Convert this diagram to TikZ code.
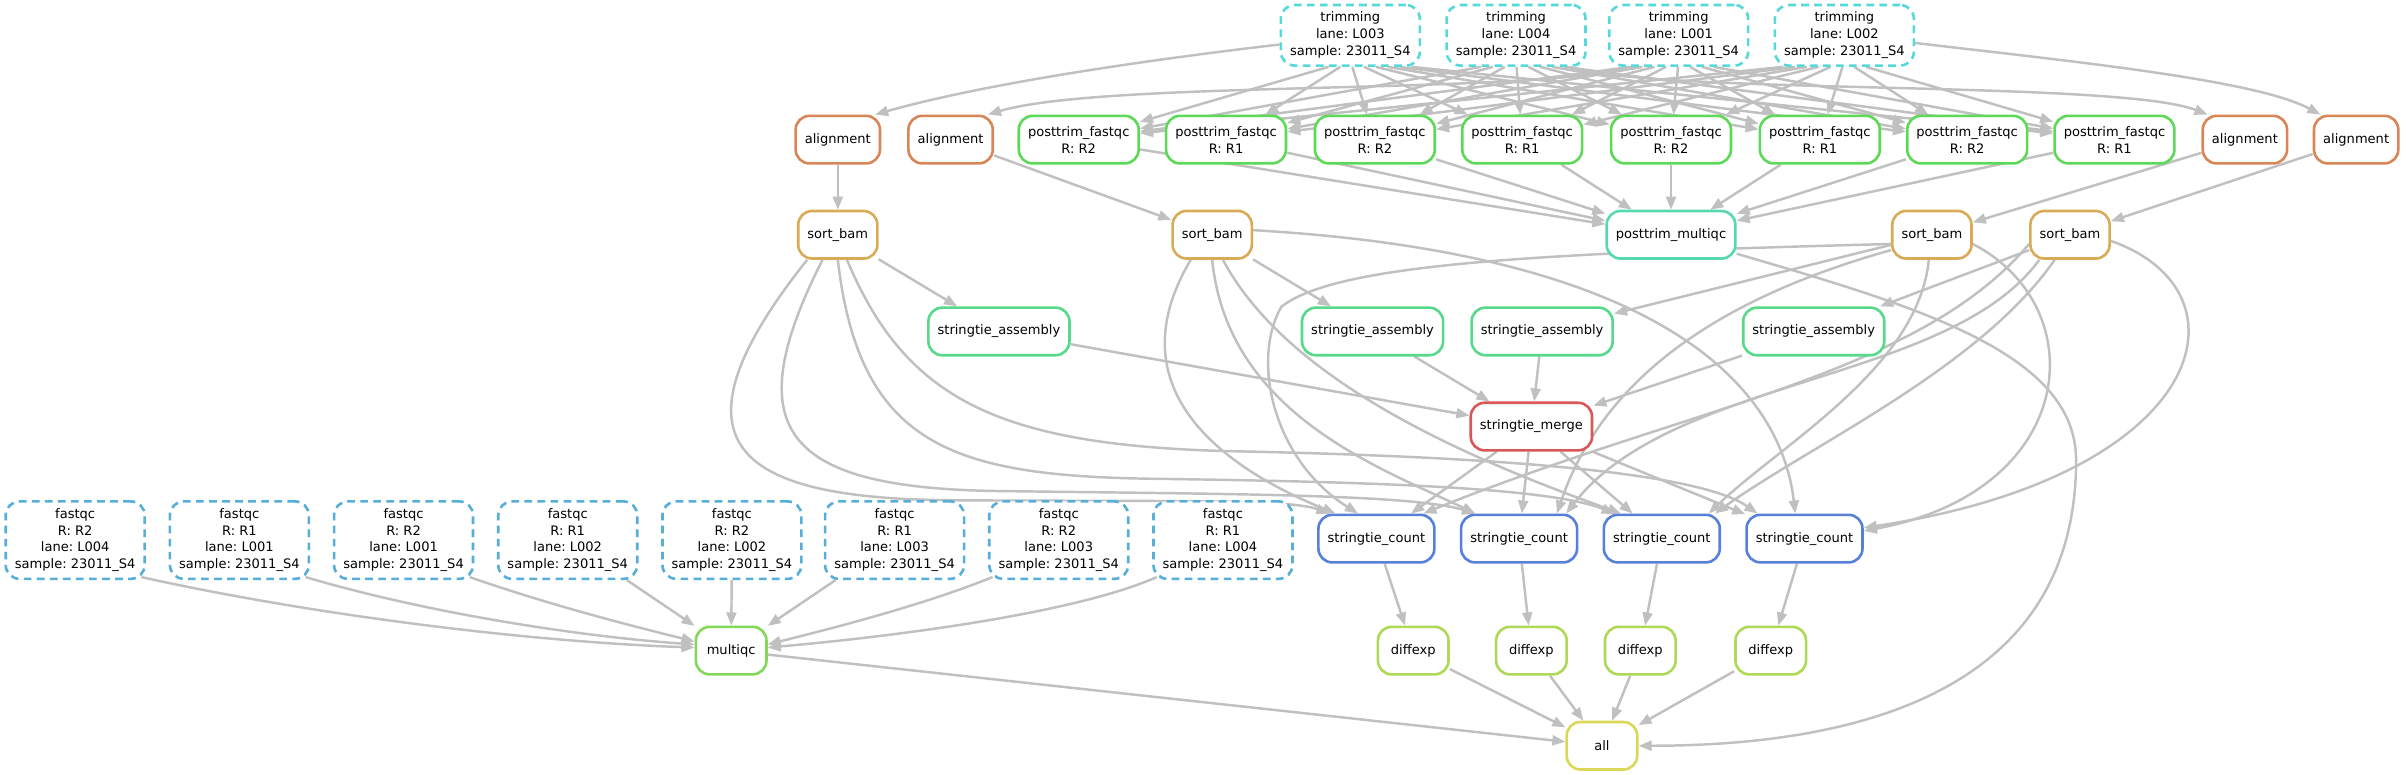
\documentclass[tikz,border=0pt]{standalone}
\usepackage{fontspec}
\setmainfont{DejaVu Sans}
\usetikzlibrary{arrows.meta,backgrounds}
\definecolor{edgegrey}{HTML}{C0C0C0}
\definecolor{ctrim}{HTML}{57D9D9}
\definecolor{calign}{HTML}{D98657}
\definecolor{csort}{HTML}{D9AB57}
\definecolor{cptfq}{HTML}{5CD957}
\definecolor{cptmq}{HTML}{57D9AE}
\definecolor{cassem}{HTML}{57D98A}
\definecolor{cmerge}{HTML}{D95757}
\definecolor{ccount}{HTML}{5781D9}
\definecolor{cfastqc}{HTML}{57AED9}
\definecolor{cmultiqc}{HTML}{81D957}
\definecolor{cdiff}{HTML}{AED957}
\definecolor{call}{HTML}{D9D957}
\frenchspacing
\begin{document}
\begin{tikzpicture}[x=1pt,y=-1pt,
  job/.style={draw, rounded corners=9pt, line width=1.7pt, fill=white, align=center,
    font=\fontsize{8.5}{11}\selectfont\frenchspacing, inner xsep=6pt, inner ysep=4.5pt,
    minimum height=31pt, minimum width=46pt},
  dashjob/.style={job, dash pattern=on 5pt off 3.5pt},
  conn/.style={draw=edgegrey, line width=1.6pt, -{Triangle[length=8.5pt,width=6.5pt]}},
  trimjob/.style={dashjob, draw=ctrim},
  alignjob/.style={job, draw=calign},
  sortjob/.style={job, draw=csort},
  ptfqjob/.style={job, draw=cptfq},
  ptmqjob/.style={job, draw=cptmq},
  assemjob/.style={job, draw=cassem},
  mergejob/.style={job, draw=cmerge},
  countjob/.style={job, draw=ccount},
  fqjob/.style={dashjob, draw=cfastqc},
  mqjob/.style={job, draw=cmultiqc},
  diffjob/.style={job, draw=cdiff},
  alljob/.style={job, draw=call}
]
\useasboundingbox (0,0) rectangle (1568,505);
% ---------- nodes ----------
\node[trimjob] (T3) at (880,23) {trimming\\lane: L003\\sample: 23011\_S4};
\node[trimjob] (T4) at (988,23) {trimming\\lane: L004\\sample: 23011\_S4};
\node[trimjob] (T1) at (1094,23) {trimming\\lane: L001\\sample: 23011\_S4};
\node[trimjob] (T2) at (1202,23) {trimming\\lane: L002\\sample: 23011\_S4};

\node[alignjob] (A1) at (546,91) {alignment};
\node[alignjob] (A2) at (619.5,91) {alignment};
\node[ptfqjob] (P1) at (703,91) {posttrim\_fastqc\\R: R2};
\node[ptfqjob] (P2) at (799,91) {posttrim\_fastqc\\R: R1};
\node[ptfqjob] (P3) at (896,91) {posttrim\_fastqc\\R: R2};
\node[ptfqjob] (P4) at (992,91) {posttrim\_fastqc\\R: R1};
\node[ptfqjob] (P5) at (1089,91) {posttrim\_fastqc\\R: R2};
\node[ptfqjob] (P6) at (1186,91) {posttrim\_fastqc\\R: R1};
\node[ptfqjob] (P7) at (1282,91) {posttrim\_fastqc\\R: R2};
\node[ptfqjob] (P8) at (1378,91) {posttrim\_fastqc\\R: R1};
\node[alignjob] (A3) at (1463,91) {alignment};
\node[alignjob] (A4) at (1535.5,91) {alignment};

\node[sortjob] (S1) at (546,153) {sort\_bam};
\node[sortjob] (S2) at (790,153) {sort\_bam};
\node[ptmqjob] (PM) at (1089,153) {posttrim\_multiqc};
\node[sortjob] (S3) at (1259,153) {sort\_bam};
\node[sortjob] (S4) at (1349,153) {sort\_bam};

\node[assemjob] (SA1) at (651,216) {stringtie\_assembly};
\node[assemjob] (SA2) at (894.5,216) {stringtie\_assembly};
\node[assemjob] (SA3) at (1005,216) {stringtie\_assembly};
\node[assemjob] (SA4) at (1182,216) {stringtie\_assembly};

\node[mergejob] (SM) at (998,278) {stringtie\_merge};

\node[fqjob] (F1) at (49,352) {fastqc\\R: R2\\lane: L004\\sample: 23011\_S4};
\node[fqjob] (F2) at (156,352) {fastqc\\R: R1\\lane: L001\\sample: 23011\_S4};
\node[fqjob] (F3) at (263,352) {fastqc\\R: R2\\lane: L001\\sample: 23011\_S4};
\node[fqjob] (F4) at (370,352) {fastqc\\R: R1\\lane: L002\\sample: 23011\_S4};
\node[fqjob] (F5) at (477,352) {fastqc\\R: R2\\lane: L002\\sample: 23011\_S4};
\node[fqjob] (F6) at (583,352) {fastqc\\R: R1\\lane: L003\\sample: 23011\_S4};
\node[fqjob] (F7) at (690,352) {fastqc\\R: R2\\lane: L003\\sample: 23011\_S4};
\node[fqjob] (F8) at (797,352) {fastqc\\R: R1\\lane: L004\\sample: 23011\_S4};

\node[countjob] (C1) at (897,351) {stringtie\_count};
\node[countjob] (C2) at (990,351) {stringtie\_count};
\node[countjob] (C3) at (1083,351) {stringtie\_count};
\node[countjob] (C4) at (1176,351) {stringtie\_count};

\node[mqjob] (M) at (476.5,424) {multiqc};
\node[diffjob] (D1) at (921,424) {diffexp};
\node[diffjob] (D2) at (998,424) {diffexp};
\node[diffjob] (D3) at (1069,424) {diffexp};
\node[diffjob] (D4) at (1154,424) {diffexp};

\node[alljob] (ALL) at (1044,486) {all};

% ---------- connectors ----------
\begin{scope}[on background layer]
\fill[white] (0,0) rectangle (1568,505);
% trimming -> alignment
\draw[conn] ([yshift=-6pt]T3.west) .. controls (740,40) and (640,55) .. ([xshift=-4pt]A1.north east);
\draw[conn] ([xshift=-30pt]T1.south) .. controls (1000,62) and (720,52) .. ([xshift=-4pt]A2.north east);
\draw[conn] ([xshift=35pt]T4.south) .. controls (1080,62) and (1380,52) .. ([xshift=4pt]A3.north west);
\draw[conn] ([yshift=-5pt]T2.east) .. controls (1350,40) and (1470,52) .. ([xshift=5pt]A4.north west);
% trimming -> posttrim_fastqc
\foreach \tn/\tx in {T3/880,T4/988,T1/1094,T2/1202}{
  \foreach \pn/\px in {P1/703,P2/799,P3/896,P4/992,P5/1089,P6/1186,P7/1282,P8/1378}{
    \pgfmathsetmacro\dxo{0.08*(\px-\tx)}
    \draw[conn] ([xshift=\dxo pt]\tn.south) -- (\pn);
  }
}
% posttrim_fastqc -> posttrim_multiqc
\foreach \pn in {P1,P2,P3,P4,P5,P6,P7,P8}{ \draw[conn] (\pn) -- (PM); }
% alignment -> sort_bam
\draw[conn] (A1) -- (S1);
\draw[conn] (A2) -- (S2);
\draw[conn] (A3) -- (S3);
\draw[conn] (A4) -- (S4);
% sort_bam -> stringtie_assembly
\draw[conn] (S1) -- (SA1);
\draw[conn] (S2) -- (SA2);
\draw[conn] (S3) -- (SA3);
\draw[conn] (S4) -- (SA4);
% stringtie_assembly -> stringtie_merge
\draw[conn] (SA1) -- (SM);
\draw[conn] (SA2) -- (SM);
\draw[conn] (SA3) -- (SM);
\draw[conn] (SA4) -- (SM);
% sort_bam S1 -> counts
\draw[conn] ([xshift=-20pt]S1.south) .. controls (430,290) and (480,325) .. (620,326) .. controls (760,327) and (840,325) .. ([xshift=8pt]C1.north west);
\draw[conn] ([xshift=-10pt]S1.south) .. controls (480,280) and (510,318) .. (650,320) .. controls (800,322) and (920,322) .. ([xshift=10pt]C2.north west);
\draw[conn] (S1.south) .. controls (560,290) and (620,310) .. (750,312) .. controls (900,314) and (1010,318) .. ([xshift=8pt]C3.north west);
\draw[conn] ([xshift=6pt]S1.south) .. controls (590,260) and (650,290) .. (800,294) .. controls (1000,298) and (1110,310) .. ([xshift=8pt]C4.north west);
% sort_bam S2 -> counts
\draw[conn] ([xshift=-14pt]S2.south) .. controls (722,260) and (810,310) .. ([xshift=12pt]C1.north west);
\draw[conn] (S2.south) .. controls (800,270) and (900,305) .. ([xshift=10pt]C2.north west);
\draw[conn] ([xshift=7pt]S2.south) .. controls (840,250) and (960,300) .. ([xshift=12pt]C3.north west);
\draw[conn] ([yshift=3pt]S2.east) .. controls (1080,165) and (1160,250) .. ([xshift=-6pt]C4.north);
% sort_bam S3 -> counts
\draw[conn] ([yshift=-6pt]S3.west) .. controls (1000,165) and (870,172) .. (835,200) .. controls (815,235) and (830,300) .. ([xshift=-12pt]C1.north);
\draw[conn] ([yshift=-10pt]S3.west) .. controls (1100,200) and (1040,260) .. ([xshift=-14pt]C2.north east);
\draw[conn] ([xshift=-2pt]S3.south) .. controls (1250,240) and (1160,290) .. ([xshift=-8pt]C3.north east);
\draw[conn] ([yshift=-6pt]S3.east) .. controls (1365,200) and (1355,320) .. ([yshift=5pt]C4.east);
% sort_bam S4 -> counts
\draw[conn] ([yshift=-6pt]S4.west) .. controls (1250,245) and (1100,265) .. ([xshift=-8pt]C1.north east);
\draw[conn] ([xshift=-20pt]S4.south) .. controls (1270,250) and (1090,245) .. ([xshift=-8pt]C2.north east);
\draw[conn] ([xshift=-10pt]S4.south) .. controls (1290,240) and (1180,290) .. ([xshift=-4pt]C3.north east);
\draw[conn] ([yshift=-4pt]S4.east) .. controls (1470,190) and (1440,310) .. ([yshift=7pt]C4.east);
% merge -> counts
\draw[conn] (SM) -- (C1);
\draw[conn] (SM) -- (C2);
\draw[conn] (SM) -- (C3);
\draw[conn] (SM) -- (C4);
% counts -> diffexp
\draw[conn] (C1) -- (D1);
\draw[conn] (C2) -- (D2);
\draw[conn] (C3) -- (D3);
\draw[conn] (C4) -- (D4);
% diffexp -> all
\draw[conn] (D1) -- (ALL);
\draw[conn] (D2) -- (ALL);
\draw[conn] (D3) -- (ALL);
\draw[conn] (D4) -- (ALL);
% fastqc -> multiqc
\draw[conn] ([xshift=-3pt,yshift=2pt]F1.south east) .. controls (200,400) and (340,418) .. ([yshift=2pt]M.west);
\draw[conn] ([xshift=-3pt,yshift=2pt]F2.south east) .. controls (280,400) and (380,415) .. ([yshift=4pt]M.west);
\draw[conn] ([xshift=-3pt,yshift=2pt]F3.south east) .. controls (360,395) and (420,410) .. ([yshift=6pt]M.west);
\draw[conn] (F4) -- (M);
\draw[conn] (F5) -- (M);
\draw[conn] (F6) -- (M);
\draw[conn] ([xshift=3pt,yshift=2pt]F7.south west) .. controls (600,395) and (540,410) .. ([yshift=4pt]M.east);
\draw[conn] ([xshift=3pt,yshift=2pt]F8.south west) .. controls (700,400) and (580,415) .. ([yshift=2pt]M.east);
% multiqc -> all
\draw[conn] (M) -- (ALL);
% posttrim_multiqc -> all
\draw[conn] ([yshift=4pt]PM.south east) .. controls (1250,200) and (1353,230) .. (1353,300) .. controls (1353,440) and (1230,486) .. (ALL.east);
\end{scope}
\end{tikzpicture}
\end{document}
